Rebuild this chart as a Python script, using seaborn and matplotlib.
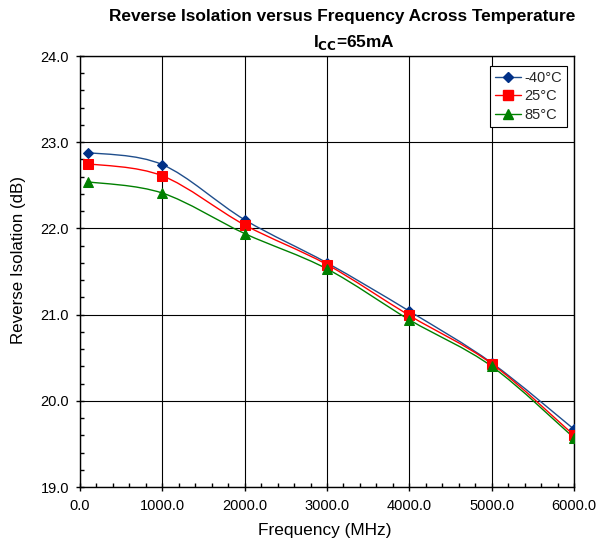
import numpy as np
import pandas as pd
import matplotlib
matplotlib.use("Agg")
import matplotlib.pyplot as plt
from matplotlib.path import Path
from matplotlib.patches import PathPatch
from matplotlib.ticker import MultipleLocator, FormatStrFormatter
from matplotlib.lines import Line2D
import seaborn as sns

freq = [100, 1000, 2000, 3000, 4000, 5000, 6000]
iso_m40 = [22.88, 22.74, 22.10, 21.60, 21.04, 20.44, 19.67]
iso_25 = [22.75, 22.61, 22.04, 21.58, 20.99, 20.43, 19.60]
iso_85 = [22.54, 22.41, 21.94, 21.53, 20.94, 20.40, 19.57]
labels = ["-40°C", "25°C", "85°C"]

sns.set_theme(style="white")
plt.rcParams['font.family'] = ['Liberation Sans', 'DejaVu Sans']

df = pd.concat([
    pd.DataFrame({"Frequency": freq, "Iso": v, "Temp": lab})
    for v, lab in zip([iso_m40, iso_25, iso_85], labels)
])

colors = {"-40°C": "#003087", "25°C": "#FF0000", "85°C": "#008000"}
line_colors = {"-40°C": "#1F4E8C", "25°C": "#FF0000", "85°C": "#008000"}
markers = {"-40°C": "D", "25°C": "s", "85°C": "^"}
msizes = {"-40°C": 5, "25°C": 7, "85°C": 7}

fig = plt.figure(figsize=(5.97, 5.44), dpi=100)
ax = fig.add_axes([80/597, 1-487/544, (574-80)/597, (487-56)/544])

def smooth_path(xs, ys):
    pts = np.column_stack([xs, ys]).astype(float)
    verts = [pts[0]]
    codes = [Path.MOVETO]
    n = len(pts)
    for i in range(n-1):
        p0 = pts[i-1] if i > 0 else pts[i]
        p1 = pts[i]
        p2 = pts[i+1]
        p3 = pts[i+2] if i+2 < n else pts[i+1]
        c1 = p1 + (p2 - p0) / 6.0
        c2 = p2 - (p3 - p1) / 6.0
        verts += [c1, c2, p2]
        codes += [Path.CURVE4]*3
    return Path(verts, codes)

for lab in labels:
    sub = df[df.Temp == lab]
    patch = PathPatch(smooth_path(sub.Frequency.values, sub.Iso.values),
                      facecolor='none', edgecolor=line_colors[lab], lw=1.0, zorder=3)
    ax.add_patch(patch)

for lab in labels:
    sub = df[df.Temp == lab]
    sns.lineplot(data=sub, x="Frequency", y="Iso", linestyle='none', marker=markers[lab],
                 markersize=msizes[lab], color=colors[lab], markeredgecolor=colors[lab],
                 ax=ax, zorder=4, legend=False, estimator=None)

ax.set_xlim(0, 6000)
ax.set_ylim(19, 24)
ax.xaxis.set_major_locator(MultipleLocator(1000))
ax.xaxis.set_minor_locator(MultipleLocator(200))
ax.yaxis.set_major_locator(MultipleLocator(1))
ax.yaxis.set_minor_locator(MultipleLocator(0.2))
ax.xaxis.set_major_formatter(FormatStrFormatter('%.1f'))
ax.yaxis.set_major_formatter(FormatStrFormatter('%.1f'))
ax.tick_params(which='major', direction='inout', length=6, width=1, color='black',
               labelsize=10.5, labelcolor='black')
ax.tick_params(axis='x', which='major', pad=6)
ax.tick_params(axis='y', which='major', pad=5)
ax.tick_params(which='minor', direction='in', length=3, width=1, color='black')
ax.tick_params(axis='x', which='both', bottom=True)
ax.tick_params(axis='y', which='both', left=True)
ax.grid(True, which='major', color='black', lw=0.8)
for sp in ax.spines.values():
    sp.set_color('black')
    sp.set_linewidth(1.0)
ax.set_axisbelow(True)

ax.set_xlabel("Frequency (MHz)", fontsize=12.4, color='black')
ax.set_ylabel("Reverse Isolation (dB)", fontsize=12.2, color='black')
ax.xaxis.label.set_va('center')
ax.yaxis.label.set_va('center')
ax.xaxis.set_label_coords((325-80)/494, (487-531)/431)
ax.yaxis.set_label_coords((18.5-80)/494, (487-260)/431)

fig.text(342/597, 1-16/544, "Reverse Isolation versus Frequency Across Temperature",
         ha='center', va='center', fontsize=12.4, fontweight='bold', color='black')
fig.text(354/597, 1-43/544, r"I$_{\mathbf{CC}}$=65mA",
         ha='center', va='center', fontsize=12.4, fontweight='bold', color='black')

handles = [Line2D([0], [0], color=line_colors[l], marker=markers[l], ms=msizes[l],
                  mfc=colors[l], mec=colors[l], lw=1.0) for l in labels]
leg = ax.legend(handles, labels, loc='upper right',
                bbox_to_anchor=((567-80)/494, (487-66)/431), borderaxespad=0,
                frameon=True, fancybox=False, edgecolor='black', fontsize=10.5,
                handlelength=1.8, borderpad=0.35, labelspacing=0.3, handletextpad=0.2,
                framealpha=1)
leg.get_frame().set_linewidth(0.8)

fig.savefig("out.png", dpi=100)
